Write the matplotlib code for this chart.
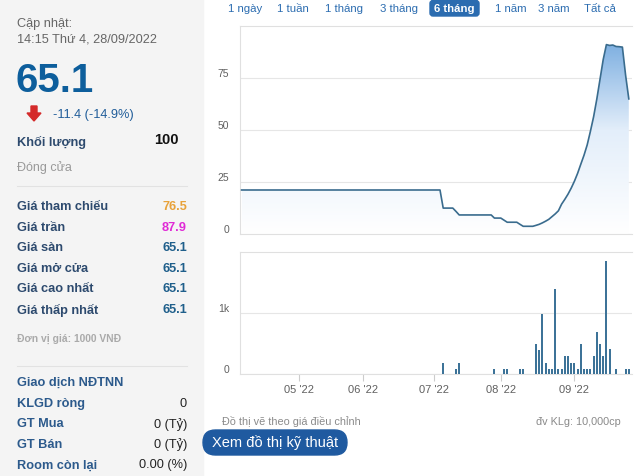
import numpy as np
import pandas as pd
import matplotlib
matplotlib.use("Agg")
import matplotlib.pyplot as plt
from matplotlib.colors import LinearSegmentedColormap
from matplotlib.patches import Polygon, Rectangle, FancyBboxPatch

plt.rcParams['font.family'] = ['Liberation Sans', 'DejaVu Sans']

# trading days (VN holidays removed)
holidays = ['2022-04-11', '2022-05-02', '2022-05-03', '2022-09-01', '2022-09-02']
dates = pd.bdate_range('2022-04-05', '2022-09-28')
dates = dates[~dates.isin(pd.to_datetime(holidays))]

# adjusted close price, one value per trading day
price = ([21.3] * 63 + [12.6] * 4 + [11.0] + [9.3] * 11 + [7.8] * 3 + [6.8] + [5.8] * 4 + [4.8]
         + [3.85] * 4
         + [4.3, 4.8, 5.5, 6.3, 7.2, 8.5, 9.8, 11.3, 14.5, 16.8, 19.3, 22.2, 25.5, 29.3, 33.7,
            38.0, 43.0, 49.5, 56.5, 65.0, 74.5, 84.0, 91.2, 90.8, 91.0, 90.3, 90.2, 90.0, 76.5, 65.1])

# volume (unit 10,000 shares as shown by the chart)
vol_dates = ['2022-07-06', '2022-07-12', '2022-07-13', '2022-07-28', '2022-08-02', '2022-08-03',
             '2022-08-09', '2022-08-10', '2022-08-16', '2022-08-17', '2022-08-18', '2022-08-19',
             '2022-08-22', '2022-08-23', '2022-08-24', '2022-08-25', '2022-08-26', '2022-08-29',
             '2022-08-30', '2022-08-31', '2022-09-05', '2022-09-06', '2022-09-07', '2022-09-08',
             '2022-09-09', '2022-09-12', '2022-09-13', '2022-09-14', '2022-09-15', '2022-09-16',
             '2022-09-19', '2022-09-20', '2022-09-22', '2022-09-27', '2022-09-28']
vol_values = [180, 82, 180, 82, 82, 82, 82, 82, 492, 393, 984, 180, 82, 82, 1393, 82, 82, 295,
              295, 180, 180, 82, 492, 82, 82, 82, 295, 683, 492, 295, 1858, 410, 82, 82, 82]

ranges = ['1 ngày', '1 tuần', '1 tháng', '3 tháng', '6 tháng', '1 năm', '3 năm', 'Tất cả']
info_labels = ['Giá tham chiếu', 'Giá trần', 'Giá sàn', 'Giá mở cửa', 'Giá cao nhất', 'Giá thấp nhất']
info_values = ['76.5', '87.9', '65.1', '65.1', '65.1', '65.1']
info_colors = ['#e8a23a', '#e02ad6', '#1f5f8b', '#1f5f8b', '#1f5f8b', '#1f5f8b']
foreign_labels = ['KLGD ròng', 'GT Mua', 'GT Bán', 'Room còn lại']
foreign_values = ['0', '0 (Tỷ)', '0 (Tỷ)', '0.00 (%)']

W, H = 640, 477
fig = plt.figure(figsize=(W / 100, H / 100), dpi=100)

def rect(x0, y0, x1, y1):
    return [x0 / W, 1 - y1 / H, (x1 - x0) / W, (y1 - y0) / H]

# background overlay in pixel coords
bg = fig.add_axes([0, 0, 1, 1], zorder=0)
bg.set_xlim(0, W)
bg.set_ylim(H, 0)
bg.axis('off')
bg.add_patch(Rectangle((0, 0), 203, H, color='#f4f4f4', zorder=0))

gray = '#666666'
lab = '#2d4a6e'
bg.text(17, 24, 'Cập nhật:', fontsize=9.2, color=gray, va='center')
bg.text(17, 40, '14:15 Thứ 4, 28/09/2022', fontsize=9.2, color=gray, va='center')
bg.text(15.5, 81, '65.1', fontsize=29, fontweight='bold', color='#0d5e9c', va='center')
bg.add_patch(Polygon([[31, 107], [37, 107], [37, 114], [41, 114], [34, 122], [27, 114], [31, 114]],
                     closed=True, color='#d42a2a'))
bg.text(53, 115, '-11.4 (-14.9%)', fontsize=9.2, color='#1f5c99', va='center')
bg.text(17, 142, 'Khối lượng', fontsize=9.2, fontweight='bold', color=lab, va='center')
bg.text(179, 140, '100', fontsize=10.5, fontweight='bold', color='#111111', va='center', ha='right')
bg.text(17, 168, 'Đóng cửa', fontsize=9, color='#999999', va='center')
bg.plot([17, 187], [187, 187], color='#e2e2e2', lw=0.8)
for i, (l, v, c) in enumerate(zip(info_labels, info_values, info_colors)):
    y = 207 + i * 20.6
    bg.text(17, y, l, fontsize=9.2, fontweight='bold', color=lab, va='center')
    bg.text(187, y, v, fontsize=9.2, fontweight='bold', color=c, va='center', ha='right')
bg.text(17, 339, 'Đơn vị giá: 1000 VNĐ', fontsize=7.4, fontweight='bold', color='#aaaaaa', va='center')
bg.plot([17, 187], [367, 367], color='#e2e2e2', lw=0.8)
bg.text(17, 383, 'Giao dịch NĐTNN', fontsize=9.2, fontweight='bold', color='#2c5a8c', va='center')
for i, (l, v) in enumerate(zip(foreign_labels, foreign_values)):
    y = 404 + i * 20.5
    bg.text(17, y, l, fontsize=9.2, fontweight='bold', color='#2c5a8c', va='center')
    bg.text(187, y, v, fontsize=9.2, color='#222222', va='center', ha='right')

# range selector
rx = [245, 293, 344, 399, 454, 511, 554, 600]
for t, x in zip(ranges, rx):
    if t == '6 tháng':
        bg.add_patch(FancyBboxPatch((430, 1.5), 49, 15.5, boxstyle='round,pad=0,rounding_size=3',
                                    color='#2b6cb0'))
        bg.text(x, 9.5, t, fontsize=8.2, fontweight='bold', color='white', va='center', ha='center')
    else:
        bg.text(x, 9.5, t, fontsize=8.2, color='#2b6cb0', va='center', ha='center')

bg.text(222, 422, 'Đồ thị vẽ theo giá điều chỉnh', fontsize=7.8, color='#8a8a8a', va='center')
bg.text(621, 422, 'đv KLg: 10,000cp', fontsize=7.8, color='#8a8a8a', va='center', ha='right')
bg.add_patch(FancyBboxPatch((203, 431), 144, 25, boxstyle='round,pad=0,rounding_size=12.5',
                            color='#1f5aa0'))
bg.text(275, 443, 'Xem đồ thị kỹ thuật', fontsize=10.5, color='white', va='center', ha='center')

x = np.arange(len(dates))
xlim = (-0.5, 122.0)
month_idx = [int(np.argmax(dates.month == m)) for m in [5, 6, 7, 8, 9]]
month_lab = [dates[i].strftime("%m '%y") for i in month_idx]

def style(ax, ymax, ticks, labels):
    ax.set_xlim(*xlim)
    ax.set_ylim(0, ymax)
    ax.set_facecolor('none')
    ax.spines['right'].set_visible(False)
    for s in ['left', 'top', 'bottom']:
        ax.spines[s].set_color('#e0e0e0')
        ax.spines[s].set_linewidth(0.8)
    ax.set_yticks(ticks)
    ax.set_yticklabels(labels)
    ax.tick_params(axis='y', length=0, pad=8, labelsize=7.5, labelcolor='#606060')
    for t in ax.get_yticklabels():
        t.set_va('bottom')
    ax.grid(axis='y', color='#e6e6e6', lw=0.8)
    ax.set_axisbelow(True)

# price chart
ax1 = fig.add_axes(rect(240, 27.3, 632, 235.3), zorder=2)
style(ax1, 100, [0, 25, 50, 75], ['0', '25', '50', '75'])
ax1.set_xticks([])
verts = [(x[0], 0)] + list(zip(x, price)) + [(x[-1], 0)]
clip = Polygon(verts, closed=True, facecolor='none', edgecolor='none')
ax1.add_patch(clip)
cmap = LinearSegmentedColormap.from_list('g', ['#ffffff', '#e3eefa', '#6aa3dc'])
grad = np.linspace(0, 1, 256).reshape(-1, 1)
im = ax1.imshow(grad, extent=[x[0], x[-1], 0, 100], origin='lower', aspect='auto',
                cmap=cmap, vmin=0, vmax=1, zorder=1)
im.set_clip_path(clip)
ax1.plot(x, price, color='#3a6c8e', lw=1.2, zorder=3)

# volume chart
ax2 = fig.add_axes(rect(240, 253, 632, 375), zorder=2)
style(ax2, 2000, [0, 1000], ['0', '1k'])
vx = [dates.get_loc(pd.Timestamp(d)) for d in vol_dates]
ax2.bar(vx, vol_values, width=0.65, color='#3d7398', zorder=3)
ax2.set_xticks(month_idx)
ax2.set_xticklabels(month_lab)
ax2.tick_params(axis='x', length=5, color='#cccccc', labelsize=8, labelcolor='#606060', pad=2)

fig.savefig('out.png', dpi=100)
